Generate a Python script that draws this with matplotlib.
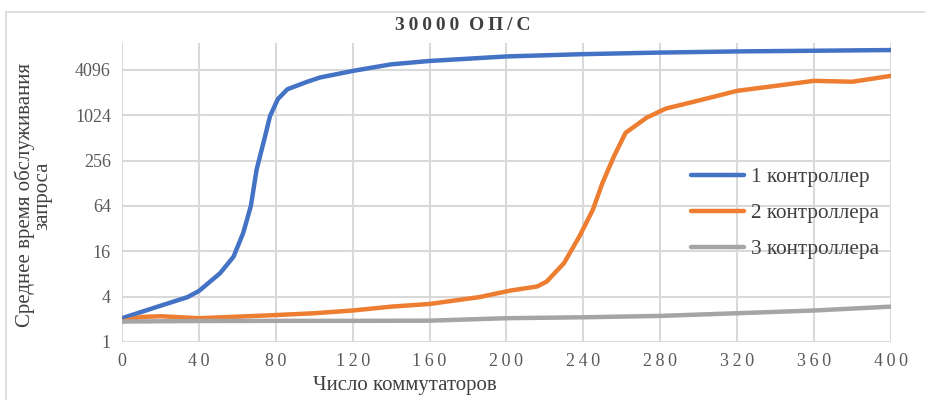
import numpy as np
import matplotlib.pyplot as plt
from matplotlib.patches import Rectangle

# number of switches / mean service time, 1 controller
x1 = [0, 16, 34, 40, 51, 58, 63, 67, 70, 74, 77, 81, 86, 96, 103, 120, 140, 160,
      200, 240, 280, 320, 360, 400]
one_ctrl = [2.07, 2.81, 3.94, 4.76, 8.2, 13.6, 28, 64, 195, 491, 1003, 1675, 2272,
            2837, 3258, 3980, 4870, 5400, 6200, 6650, 6980, 7230, 7380, 7540]

# 2 controllers
x2 = [0, 10, 20, 40, 60, 80, 100, 120, 140, 160, 186, 202, 216, 221, 230, 238, 245,
      250, 256, 262, 273, 283, 297, 306, 320, 340, 360, 380, 400]
two_ctrl = [1.87, 2.15, 2.2, 2.07, 2.17, 2.28, 2.41, 2.62, 2.95, 3.2, 3.95, 4.82, 5.46,
            6.36, 11.2, 25.3, 57.3, 130, 294, 600, 955, 1261, 1541, 1758, 2165, 2520,
            2940, 2860, 3420]

# 3 controllers
x3 = [0, 40, 80, 120, 160, 200, 240, 280, 320, 360, 400]
three_ctrl = [1.87, 1.9, 1.91, 1.91, 1.92, 2.07, 2.13, 2.22, 2.41, 2.62, 2.95]

yticks = [1, 4, 16, 64, 256, 1024, 4096]
xticks = list(range(0, 401, 40))

plt.rcParams['font.family'] = ['Liberation Serif', 'DejaVu Serif']
txt = '#404040'

fig = plt.figure(figsize=(9.25, 4), dpi=100)
ax = fig.add_axes([0.132, 0.145, 0.831, 0.748])

ax.plot(x1, one_ctrl, color='#4472C4', lw=3.2, label='1 контроллер', solid_capstyle='round')
ax.plot(x2, two_ctrl, color='#ED7D31', lw=3.2, label='2 контроллера', solid_capstyle='round')
ax.plot(x3, three_ctrl, color='#A5A5A5', lw=3.2, label='3 контроллера', solid_capstyle='round')

ax.set_yscale('log', base=2)
ax.set_ylim(1, 2 ** 13.2)
ax.set_xlim(0, 400)
ax.set_yticks(yticks)
ax.set_yticklabels([str(v) for v in yticks])
ax.set_xticks(xticks)
ax.set_xticklabels(['\u2009'.join(str(v)) for v in xticks])
ax.minorticks_off()
ax.grid(True, color='#d9d9d9', lw=1.5)
ax.set_axisbelow(True)
for s in ax.spines.values():
    s.set_visible(False)
ax.tick_params(length=0, labelsize=13, colors='#595959', pad=8)

fig.text(0.5, 0.935, '3\u20090\u20090\u20090\u20090  О\u2009П\u2009/\u2009С', fontsize=14,
         fontweight='bold', color=txt, ha='center', va='center')
ax.set_ylabel('Среднее время обслуживания\nзапроса', fontsize=15, color=txt, linespacing=0.95)
ax.yaxis.set_label_coords(-0.09, 0.49)
ax.set_xlabel('Число коммутаторов', fontsize=15, color=txt)
ax.xaxis.set_label_coords(0.368, -0.115)

leg = ax.legend(loc='center left', bbox_to_anchor=(0.74, 0.431), frameon=False,
                fontsize=15.3, handlelength=2.5, handletextpad=0.33, labelspacing=0.76,
                borderpad=0, borderaxespad=0)
for t in leg.get_texts():
    t.set_color(txt)

fig.patches.append(Rectangle((0.006, -0.01), 1.1, 0.98, transform=fig.transFigure,
                             fill=False, ec='#d9d9d9', lw=1.2))

fig.savefig('out.png', dpi=100)
